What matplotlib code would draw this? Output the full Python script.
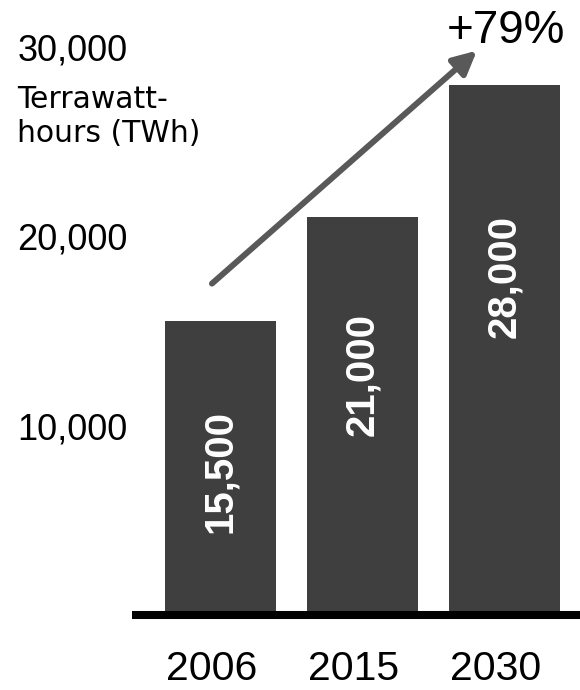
import matplotlib.pyplot as plt

years = ['2006', '2015', '2030']
demand = [15500, 21000, 28000]
label_y = [7600, 12700, 17900]   # where the rotated value labels sit
yticks = [10000, 20000, 30000]

plt.rcParams['font.family'] = 'Liberation Sans'

fig = plt.figure(figsize=(5.8, 6.9), dpi=100)
W, H = 580, 690
# axes: left edge 132px, right 580px, zero at 615px from top
ax = fig.add_axes([132 / W, 75 / H, 448 / W, 606 / H])

x = range(len(years))
ax.bar(x, demand, width=0.78, color='#3f3f3f', zorder=2)
ax.set_xlim(-0.623, 2.532)
ax.set_ylim(0, 32000)

# thick base line
ax.axhline(0, color='black', linewidth=5.8, zorder=3, clip_on=False,
           solid_capstyle='butt')

for s in ax.spines.values():
    s.set_visible(False)

ax.set_yticks(yticks)
ax.set_yticklabels([f'{v:,}' for v in yticks], fontsize=26)
ax.tick_params(axis='y', length=0, pad=3)

ax.set_xticks([i - 0.06 for i in x])
ax.set_xticklabels(years, fontsize=29.5)
ax.tick_params(axis='x', length=0, pad=25)

for i, (v, ly) in enumerate(zip(demand, label_y)):
    ax.text(i, ly, f'{v:,}', rotation=90, color='white', fontsize=29,
            fontweight='bold', ha='center', va='center', zorder=4)

# growth arrow
ax.annotate('', xy=(1.806, 29800), xytext=(-0.06, 17500),
            arrowprops=dict(arrowstyle='-|>,head_length=0.7,head_width=0.35',
                            color='#595959', linewidth=4.3, mutation_scale=20,
                            shrinkA=0, shrinkB=0), annotation_clip=False)

fig.text(506 / W, 1 - 43 / H, '+79%', fontsize=33, ha='center', va='baseline')
fig.text(17 / W, 1 - 142 / H, 'Terrawatt-\nhours (TWh)', family='DejaVu Sans',
         fontsize=21.5, ha='left', va='baseline', linespacing=1.2)

fig.savefig('out.png', dpi=100)
